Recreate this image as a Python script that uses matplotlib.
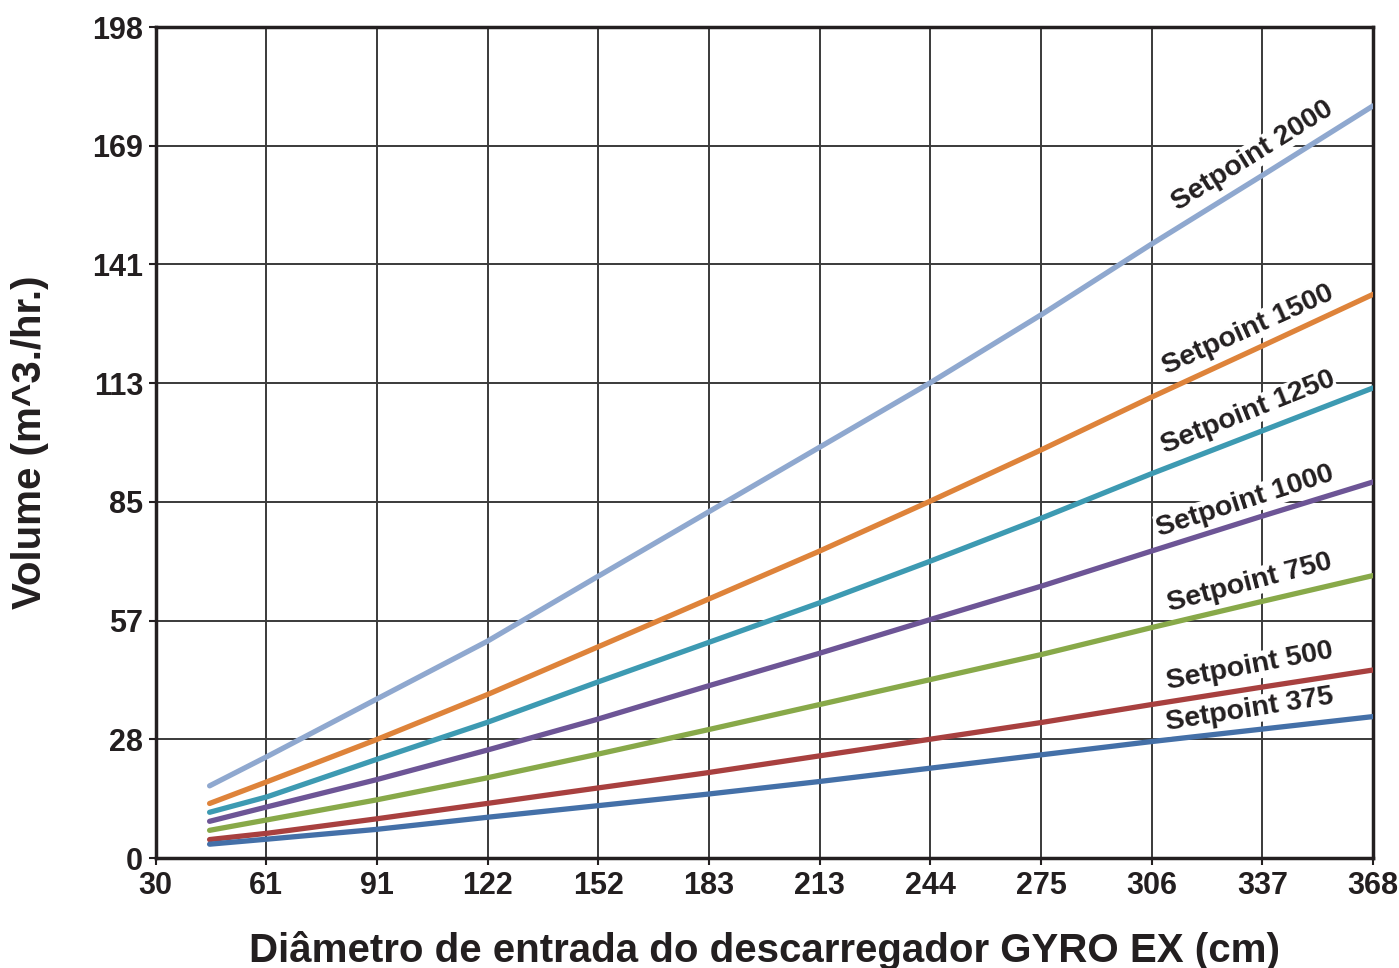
import matplotlib
matplotlib.use("Agg")
import matplotlib.pyplot as plt
import numpy as np

plt.rcParams['font.family'] = ['Liberation Sans', 'DejaVu Sans']

# Data
x_cm = [45, 61, 91, 122, 152, 183, 214, 245, 276, 306, 337, 368]
sp2000 = [17.2, 24.2, 37.7, 51.6, 66.7, 82.2, 97.7, 113.2, 129.5, 146.0, 162.5, 179.2]
sp1500 = [13.0, 18.2, 28.1, 38.9, 50.0, 61.5, 73.0, 85.0, 97.3, 109.6, 121.9, 134.3]
sp1250 = [10.9, 14.6, 23.4, 32.3, 41.7, 51.2, 60.7, 70.7, 81.0, 91.4, 101.7, 112.0]
sp1000 = [8.75, 12.2, 18.6, 25.7, 32.9, 40.9, 48.7, 56.8, 64.8, 73.0, 81.4, 89.6]
sp750 = [6.6, 9.1, 13.8, 19.1, 24.6, 30.5, 36.5, 42.5, 48.5, 54.8, 61.1, 67.3]
sp500 = [4.4, 5.9, 9.3, 13.0, 16.6, 20.3, 24.3, 28.3, 32.3, 36.5, 40.7, 44.8]
sp375 = [3.3, 4.5, 6.8, 9.7, 12.4, 15.2, 18.2, 21.4, 24.6, 27.7, 30.7, 33.7]

series_names = ["Setpoint 2000", "Setpoint 1500", "Setpoint 1250", "Setpoint 1000",
                "Setpoint 750", "Setpoint 500", "Setpoint 375"]
series_values = [sp2000, sp1500, sp1250, sp1000, sp750, sp500, sp375]
colors = ["#8FA8CF", "#DE833A", "#3D9AB2", "#6D5596", "#88A949", "#A8403F", "#4470A8"]

x_tick_labels = ["30", "61", "91", "122", "152", "183", "213", "244", "275", "306", "337", "368"]
y_tick_labels = ["0", "28", "57", "85", "113", "141", "169", "198"]

# label placement (data coords) and rotation
label_pos = [(334.6, 167.3), (333.2, 125.9), (333.2, 106.1), (332.4, 85.0),
             (333.8, 65.6), (333.8, 45.6), (333.8, 35.3)]
label_rot = [32, 24.3, 21.8, 17.8, 14.7, 10.8, 9.1]

fig = plt.figure(figsize=(13.99, 9.68), dpi=100)
ax = fig.add_axes([0.1112, 0.1136, 0.8702, 0.8585])

xmin, xmax = 30, 368
ymin, ymax = 0, 198
ax.set_xlim(xmin, xmax)
ax.set_ylim(ymin, ymax)

xt = np.linspace(xmin, xmax, len(x_tick_labels))
yt = np.linspace(ymin, ymax, len(y_tick_labels))
ax.set_xticks(xt)
ax.set_xticklabels(x_tick_labels)
ax.set_yticks(yt)
ax.set_yticklabels(y_tick_labels)

ax.grid(True, color="#3a3a3a", linewidth=1.4, zorder=0)
ax.set_axisbelow(True)

for name, vals, c in zip(series_names, series_values, colors):
    ax.plot(x_cm, vals, color=c, linewidth=3.8, solid_capstyle='round', zorder=3)

for name, (lx, ly), rot in zip(series_names, label_pos, label_rot):
    ax.text(lx, ly, name, rotation=rot, rotation_mode='anchor', ha='center', va='center',
            fontsize=20.5, fontweight='bold', color="#231f20", zorder=4,
            bbox=dict(facecolor='white', edgecolor='none', pad=0.5))

for s in ax.spines.values():
    s.set_linewidth(2.5)
    s.set_color("#231f20")

ax.tick_params(axis='both', direction='out', length=5, width=1.5, color="#231f20",
               labelsize=22, pad=4)
for lab in ax.get_xticklabels() + ax.get_yticklabels():
    lab.set_fontweight('bold')
    lab.set_color("#231f20")

ax.set_xlabel("Diâmetro de entrada do descarregador GYRO EX (cm)", fontsize=29,
              fontweight='bold', color="#231f20", labelpad=22)
ax.set_ylabel("Volume (m^3./hr.)", fontsize=29, fontweight='bold', color="#231f20",
              labelpad=31)

fig.savefig("out.png", dpi=100)
